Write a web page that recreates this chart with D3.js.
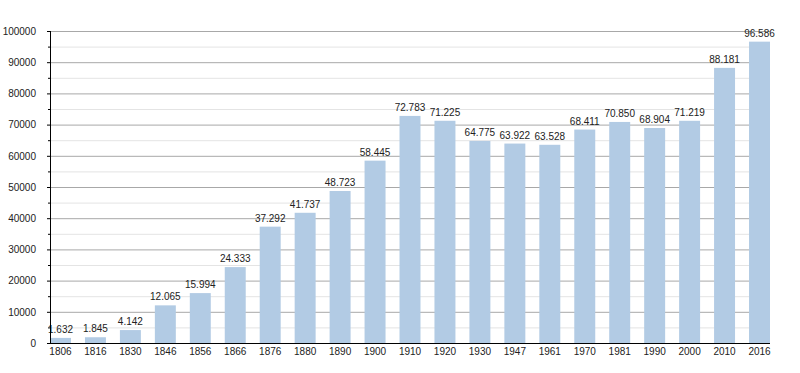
<!DOCTYPE html>
<html>
<head>
<meta charset="utf-8">
<script src="https://cdn.jsdelivr.net/npm/d3@7"></script>
<style>
  body { margin: 0; background: #fff; }
  text { font-family: "Liberation Sans", Arial, sans-serif; fill: #222; }
</style>
</head>
<body>
<svg id="chart" width="800" height="373"></svg>
<script>
const years = ['1806','1816','1830','1846','1856','1866','1876','1880','1890','1900','1910',
  '1920','1930','1947','1961','1970','1981','1990','2000','2010','2016'];
const population = [1632,1845,4142,12065,15994,24333,37292,41737,48723,58445,72783,
  71225,64775,63922,63528,68411,70850,68904,71219,88181,96586];
const yTicks = [0,10000,20000,30000,40000,50000,60000,70000,80000,90000,100000];

const data = years.map((y, i) => ({ year: y, value: population[i] }));

const svg = d3.select('#chart');
const margin = {top: 31, right: 30, bottom: 30, left: 50};
const width = +svg.attr('width');
const height = +svg.attr('height');
const innerWidth = width - margin.left - margin.right;
const innerHeight = height - margin.top - margin.bottom;

const xScale = d3.scaleBand()
  .domain(years)
  .range([0, innerWidth])
  .paddingInner(0.4)
  .paddingOuter(0);

const yScale = d3.scaleLinear()
  .domain([0, 100000])
  .range([innerHeight, 0]);

const g = svg.append('g')
  .attr('transform', `translate(${margin.left}, ${margin.top})`);

// griglia minore e maggiore
const minor = d3.range(5000, 100000, 10000);
g.selectAll('.minor')
  .data(minor)
  .enter().append('line')
    .attr('x1', 0).attr('x2', innerWidth)
    .attr('y1', d => yScale(d) + 0.5).attr('y2', d => yScale(d) + 0.5)
    .attr('stroke', '#e4e4e4');

g.selectAll('.major')
  .data(yTicks.slice(1))
  .enter().append('line')
    .attr('x1', 0).attr('x2', innerWidth)
    .attr('y1', d => yScale(d) + 0.5).attr('y2', d => yScale(d) + 0.5)
    .attr('stroke', '#a8a8a8');

// barre
g.selectAll('rect')
  .data(data)
  .enter().append('rect')
    .attr('x', d => xScale(d.year))
    .attr('y', d => yScale(d.value))
    .attr('width', xScale.bandwidth())
    .attr('height', d => innerHeight - yScale(d.value))
    .attr('fill', '#b2cbe4');

// etichette valori
const fmt = d3.formatLocale({decimal: ',', thousands: '.', grouping: [3], currency: ['', '']}).format(',');
g.selectAll('.valueLabel')
  .data(data)
  .enter().append('text')
    .attr('x', d => xScale(d.year) + xScale.bandwidth() / 2)
    .attr('y', d => yScale(d.value) - 5)
    .attr('text-anchor', 'middle')
    .attr('font-size', 10)
    .text(d => fmt(d.value));

// asse y
const yAxis = d3.axisLeft(yScale)
  .tickValues(yTicks)
  .tickFormat(d3.format('d'))
  .tickSize(3)
  .tickPadding(11);
const yAxisG = g.append('g').call(yAxis);
yAxisG.select('.domain').attr('stroke', '#000').attr('d', `M0.5,0V${innerHeight}`);
yAxisG.selectAll('text').attr('font-size', 10).attr('font-family', null);
yAxisG.attr('font-family', null);
yAxisG.selectAll('.tick line').attr('stroke', '#000');
g.append('g').selectAll('line')
  .data(minor)
  .enter().append('line')
    .attr('x1', -2).attr('x2', 0)
    .attr('y1', d => yScale(d) + 0.5).attr('y2', d => yScale(d) + 0.5)
    .attr('stroke', '#000');

// asse x
const xAxis = d3.axisBottom(xScale).tickSize(0).tickPadding(5);
const xAxisG = g.append('g')
  .attr('transform', `translate(0, ${innerHeight})`)
  .call(xAxis);
xAxisG.attr('font-family', null);
xAxisG.select('.domain').attr('stroke', '#000').attr('d', `M0,0.5H${innerWidth}`);
xAxisG.selectAll('text').attr('font-size', 10);
</script>
</body>
</html>
